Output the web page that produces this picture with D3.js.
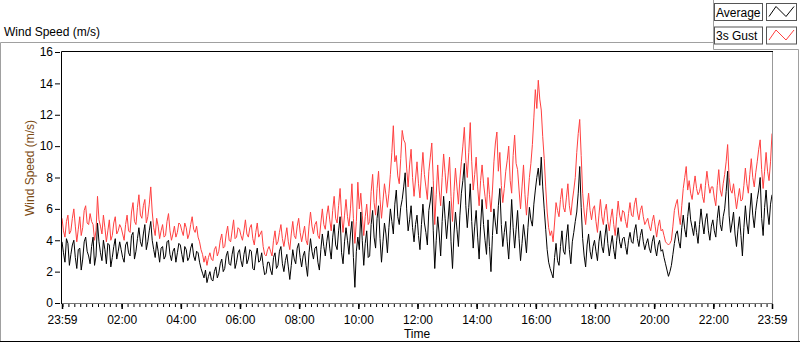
<!DOCTYPE html>
<html>
<head>
<meta charset="utf-8">
<script src="https://cdn.jsdelivr.net/npm/d3@7"></script>
<style>
  body { margin: 0; background: #fff; }
  text { font-family: "Liberation Sans", Arial, sans-serif; font-size: 12px; }
</style>
</head>
<body>
<div id="chart"></div>
<script>
// wind speed log, one value every 3 minutes from 23:59 to 23:59 (one row = one hour)
var avgSpeed = [
  3.9, 3.2, 2.6, 4.1, 3.8, 2.4, 3.1, 3.7, 4.0, 2.9, 2.2, 3.4, 3.5, 2.1, 2.8, 3.9, 4.2, 3.3, 3.0, 2.5,
  3.6, 4.2, 2.4, 3.0, 5.1, 3.9, 3.2, 2.7, 4.0, 3.4, 2.5, 3.8, 3.7, 2.3, 2.9, 3.6, 4.1, 2.8, 3.3, 3.9,
  3.4, 2.9, 2.6, 3.7, 3.9, 3.2, 3.0, 4.3, 4.5, 2.8, 3.3, 4.1, 4.8, 3.9, 3.6, 4.4, 5.0, 3.4, 3.9, 4.6,
  5.2, 4.0, 3.4, 2.9, 3.9, 3.3, 2.6, 3.5, 3.6, 2.8, 3.0, 3.9, 4.0, 3.1, 2.7, 3.3, 3.5, 2.6, 3.2, 3.8,
  3.7, 3.1, 2.6, 3.6, 3.4, 2.7, 2.9, 3.5, 3.8, 3.0, 2.7, 3.3, 3.2, 2.6, 2.2, 1.9, 1.6, 2.1, 1.3, 1.7,
  2.0, 1.5, 1.4, 2.0, 2.3, 1.6, 1.9, 2.5, 2.8, 2.0, 2.2, 3.0, 3.3, 2.5, 2.4, 3.1, 3.6, 2.2, 2.6, 3.2,
  3.4, 2.7, 2.3, 3.1, 3.6, 2.5, 2.8, 3.4, 3.3, 2.2, 2.1, 3.0, 3.5, 2.6, 2.7, 3.2, 2.4, 1.8, 1.9, 2.6,
  2.6, 2.1, 1.8, 2.9, 3.2, 2.2, 2.4, 3.3, 3.6, 2.5, 2.0, 2.7, 3.1, 2.3, 1.5, 2.4, 3.4, 2.8, 2.5, 3.5,
  3.8, 2.9, 2.3, 3.0, 3.3, 2.4, 1.7, 3.2, 4.1, 3.3, 2.8, 3.5, 3.6, 2.6, 2.1, 3.4, 4.4, 3.6, 3.0, 3.9,
  4.6, 3.5, 2.8, 4.2, 5.0, 3.7, 3.4, 4.6, 5.5, 3.2, 2.5, 3.9, 4.8, 4.0, 3.1, 4.4, 5.2, 2.9, 1.0, 3.3,
  4.2, 3.4, 5.8, 4.0, 2.4, 3.8, 4.6, 2.9, 3.0, 5.0, 5.9, 4.2, 3.5, 5.4, 6.2, 4.1, 2.6, 3.9, 5.1, 4.4,
  3.2, 4.8, 6.0, 5.2, 4.4, 6.3, 7.2, 5.5, 5.0, 6.1, 6.6, 7.4, 8.3, 6.0, 4.6, 5.3, 6.2, 4.8, 3.9, 5.0,
  5.6, 4.3, 3.4, 5.0, 6.3, 5.1, 4.5, 3.7, 5.9, 6.5, 7.4, 4.6, 2.2, 4.0, 5.5, 4.4, 3.0, 5.2, 6.8, 5.4,
  4.1, 5.3, 6.5, 3.9, 2.2, 4.4, 5.8, 4.7, 3.6, 5.6, 7.0, 7.8, 8.9, 6.2, 4.8, 6.1, 7.6, 5.2, 3.5, 4.9,
  5.9, 4.2, 2.8, 4.9, 6.6, 5.0, 4.0, 3.1, 5.3, 3.6, 2.0, 4.3, 6.0, 5.1, 4.4, 6.2, 7.3, 5.0, 3.6, 4.5,
  5.2, 3.9, 2.8, 4.6, 6.6, 4.8, 3.5, 4.7, 5.9, 4.1, 2.7, 3.8, 5.0, 4.2, 3.2, 4.8, 6.1, 5.3, 4.9, 6.3,
  7.2, 8.0, 8.6, 7.5, 9.3, 7.4, 6.0, 4.7, 3.4, 2.6, 2.2, 1.9, 1.6, 2.9, 3.8, 2.7, 2.4, 3.6, 4.6, 3.3,
  3.1, 4.2, 5.0, 3.4, 2.5, 3.9, 4.5, 5.2, 5.8, 7.0, 8.7, 6.1, 4.1, 3.0, 2.3, 3.7, 4.4, 3.3, 2.8, 3.6,
  4.0, 3.3, 2.7, 3.9, 4.6, 3.6, 3.2, 4.2, 5.0, 3.8, 3.0, 3.7, 4.3, 3.4, 2.8, 4.0, 4.8, 3.9, 3.5, 4.1,
  4.2, 3.6, 3.1, 4.0, 4.5, 3.9, 3.8, 4.6, 5.0, 4.1, 3.6, 4.3, 4.7, 3.9, 3.4, 3.8, 4.1, 3.5, 3.2, 3.9,
  4.3, 3.5, 3.0, 3.7, 4.0, 3.3, 3.4, 2.9, 2.5, 2.1, 1.7, 2.0, 2.4, 3.1, 3.8, 4.4, 4.6, 3.9, 3.5, 4.8,
  5.6, 4.7, 4.2, 5.5, 6.4, 5.3, 4.8, 4.3, 5.2, 4.5, 3.8, 5.0, 6.0, 5.1, 4.4, 5.3, 5.7, 4.6, 4.0, 4.9,
  5.3, 4.6, 4.2, 5.4, 6.2, 5.0, 4.6, 5.5, 6.0, 7.1, 8.4, 5.6, 4.5, 5.1, 5.8, 4.4, 3.6, 4.7, 5.5, 4.3,
  3.0, 4.8, 6.2, 5.1, 4.4, 5.8, 7.0, 5.6, 4.8, 5.9, 6.6, 7.2, 8.0, 5.4, 4.3, 6.1, 7.2, 5.8, 5.0, 6.3,
  6.9
];

var gustSpeed = [
  5.4, 4.6, 4.2, 5.2, 5.6, 4.4, 4.6, 5.4, 6.0, 4.9, 3.9, 4.7, 5.5, 4.3, 4.8, 5.9, 6.2, 5.1, 5.0, 5.7,
  5.2, 5.0, 4.0, 4.6, 6.8, 5.3, 4.9, 4.4, 5.6, 4.8, 3.9, 4.6, 5.3, 4.0, 4.3, 5.1, 5.5, 4.4, 4.6, 5.0,
  4.8, 4.4, 4.0, 5.0, 5.6, 4.6, 4.5, 5.8, 6.4, 5.2, 5.0, 6.1, 6.9, 5.6, 5.4, 6.2, 6.6, 5.1, 5.5, 6.3,
  7.4, 5.8, 4.8, 4.3, 5.4, 4.9, 4.1, 4.6, 5.0, 4.2, 4.3, 5.2, 5.7, 4.6, 4.0, 4.4, 4.9, 4.2, 4.5, 5.1,
  5.0, 4.6, 4.3, 5.1, 4.8, 4.1, 4.4, 5.0, 5.5, 4.7, 4.5, 4.9, 4.2, 3.9, 3.4, 3.1, 2.6, 3.0, 2.4, 2.9,
  3.2, 2.8, 2.7, 3.4, 3.6, 3.0, 3.3, 4.0, 4.4, 3.5, 3.6, 4.4, 4.9, 4.0, 3.9, 4.6, 5.3, 4.1, 4.2, 4.8,
  4.7, 4.3, 4.0, 4.6, 5.3, 4.4, 4.2, 4.8, 5.0, 4.1, 3.7, 4.5, 5.1, 4.2, 4.4, 4.6, 3.6, 3.1, 3.0, 3.4,
  3.6, 3.3, 3.0, 4.0, 4.6, 3.7, 3.9, 4.5, 5.0, 4.1, 3.6, 4.2, 4.8, 3.9, 3.4, 4.4, 5.2, 4.3, 4.1, 4.9,
  5.4, 4.5, 3.9, 4.4, 4.9, 4.0, 3.7, 4.9, 5.8, 4.9, 4.4, 5.0, 5.2, 4.3, 4.1, 5.1, 6.0, 5.0, 4.7, 5.6,
  6.2, 5.3, 4.6, 5.9, 6.8, 5.4, 5.1, 6.2, 7.3, 5.6, 4.5, 5.6, 6.6, 5.5, 4.9, 6.0, 7.6, 5.4, 3.8, 5.2,
  7.7, 6.0, 7.0, 5.6, 4.3, 5.5, 6.3, 5.0, 5.2, 7.1, 8.2, 6.4, 5.6, 7.3, 8.4, 6.6, 5.4, 6.5, 7.6, 6.9,
  6.1, 7.0, 8.2, 9.6, 11.3, 9.0, 9.4, 8.1, 7.6, 9.2, 11.0, 10.4, 10.2, 8.6, 7.4, 8.8, 9.8, 8.0, 6.8, 7.9,
  9.0, 7.6, 6.7, 8.3, 9.6, 8.2, 7.4, 6.6, 8.4, 9.3, 10.2, 7.8, 5.0, 6.9, 8.8, 7.2, 6.2, 8.0, 9.5, 8.3,
  7.0, 8.1, 9.3, 6.8, 5.2, 7.1, 8.6, 7.4, 6.3, 7.9, 9.0, 10.0, 11.2, 9.1, 8.0, 9.6, 11.5, 9.0, 7.2, 8.2,
  9.3, 7.4, 6.2, 7.8, 8.8, 7.6, 6.8, 6.0, 8.0, 6.9, 5.8, 7.2, 9.0, 10.2, 10.9, 8.4, 9.6, 7.5, 6.4, 7.3,
  8.4, 9.1, 10.0, 7.8, 7.0, 9.4, 10.7, 8.9, 8.5, 7.2, 6.0, 7.4, 8.8, 6.9, 5.6, 6.8, 8.0, 8.9, 10.1, 11.8,
  13.6, 12.4, 14.2, 13.0, 12.3, 10.6, 9.2, 7.4, 5.8, 4.8, 4.3, 4.6, 3.9, 5.1, 6.4, 5.9, 5.5, 6.6, 7.3, 6.1,
  5.8, 6.7, 7.6, 6.2, 5.6, 6.5, 7.2, 8.0, 9.6, 10.8, 11.7, 9.4, 7.0, 5.8, 5.0, 6.1, 7.0, 5.9, 5.3, 6.0,
  6.2, 5.2, 4.5, 5.6, 6.6, 5.5, 5.0, 5.9, 6.3, 5.2, 4.6, 5.4, 6.0, 5.0, 4.3, 5.5, 6.5, 5.6, 5.2, 5.9,
  5.8, 5.2, 4.8, 5.7, 6.4, 5.6, 5.5, 6.3, 6.7, 5.8, 5.3, 5.9, 6.2, 5.5, 5.0, 5.2, 5.4, 4.9, 4.6, 5.2,
  5.6, 4.9, 4.2, 4.9, 5.3, 4.6, 4.7, 4.3, 3.9, 3.8, 3.7, 3.8, 4.0, 4.9, 5.9, 6.3, 6.6, 5.6, 5.0, 6.2,
  7.3, 8.0, 8.7, 7.2, 7.8, 7.0, 6.6, 7.4, 8.1, 7.3, 6.9, 7.1, 7.6, 6.8, 6.4, 7.5, 8.4, 7.6, 7.0, 7.4,
  7.4, 6.7, 6.2, 7.5, 8.5, 7.2, 6.8, 7.6, 8.2, 9.0, 10.1, 8.0, 7.2, 7.0, 7.6, 6.8, 6.0, 6.7, 7.3, 6.5,
  6.6, 7.5, 8.6, 7.6, 7.0, 8.2, 9.2, 8.0, 7.4, 8.3, 9.0, 9.8, 10.4, 8.5, 7.3, 8.4, 9.6, 8.4, 7.8, 9.0,
  10.8
];

var seriesNames = ["Average", "3s Gust"];
var seriesColors = ["#000000", "#ff4040"];
var yTicks = [0, 2, 4, 6, 8, 10, 12, 14, 16];
var labelHours = [2, 4, 6, 8, 10, 12, 14, 16, 18, 20, 22];
var stepMinutes = 3;

var svgwdth = 800;
var svghght = 342;

// plot area edges
var plot = {left: 62, right: 772, top: 52, bottom: 303};

var svg = d3.select("#chart")
  .append("svg")
  .attr("width", svgwdth)
  .attr("height", svghght);

var startTime = new Date(2020, 0, 1, 23, 59);
var endTime = new Date(2020, 0, 2, 23, 59);

var xScale = d3.scaleTime()
  .domain([startTime, endTime])
  .range([plot.left, plot.right]);

var yScale = d3.scaleLinear()
  .domain([0, 16])
  .range([plot.bottom, plot.top]);

//----- outer frame -----//
var frameGray = "#a0a0a0";
svg.append("path")
  .attr("d", "M0.5,341 L0.5,42.5 L713,42.5")
  .attr("fill", "none").attr("stroke", frameGray);
svg.append("path")
  .attr("d", "M713.5,0 L713.5,49.5 L798.5,49.5 L798.5,341")
  .attr("fill", "none").attr("stroke", frameGray);
svg.append("line")
  .attr("x1", 0).attr("x2", 800).attr("y1", 341.5).attr("y2", 341.5)
  .attr("stroke", "#000");

svg.append("text")
  .attr("x", 4).attr("y", 36)
  .attr("fill", "#000")
  .text("Wind Speed (m/s)");

//----- legend -----//
var legend = svg.append("g");
seriesNames.forEach(function(name, i) {
  var top = 3.5 + i * 23.5;
  legend.append("rect")
    .attr("x", 714.5).attr("y", top)
    .attr("width", 48).attr("height", 17)
    .attr("fill", "#fff").attr("stroke", "#555");
  legend.append("text")
    .attr("x", 716).attr("y", top + 13)
    .attr("fill", "#000")
    .text(name);
  legend.append("rect")
    .attr("x", 766.5).attr("y", top)
    .attr("width", 30).attr("height", 17)
    .attr("fill", "#fff").attr("stroke", "#555");
  legend.append("path")
    .attr("d", "M769," + (top + 13) + " L776," + (top + 3) + " L786," + (top + 13) + " L794," + (top + 3))
    .attr("fill", "none")
    .attr("stroke", seriesColors[i]);
});

//----- plot frame -----//
svg.append("line")
  .attr("x1", plot.right + 0.5).attr("x2", plot.right + 0.5)
  .attr("y1", plot.top).attr("y2", plot.bottom)
  .attr("stroke", "#999");
svg.append("line")
  .attr("x1", plot.left).attr("x2", plot.right + 1)
  .attr("y1", plot.bottom + 0.5).attr("y2", plot.bottom + 0.5)
  .attr("stroke", "#777");
svg.append("path")
  .attr("d", "M" + (plot.left - 0.5) + "," + (plot.bottom + 1) + " L" + (plot.left - 0.5) + "," + (plot.top - 0.5) + " L" + (plot.right + 1) + "," + (plot.top - 0.5))
  .attr("fill", "none").attr("stroke", "#000");

//----- y axis -----//
var leftAxis = d3.axisLeft(yScale)
  .tickValues(yTicks)
  .tickSize(5)
  .tickPadding(2);

var yAxis = svg.append("g")
  .attr("transform", "translate(" + (plot.left - 2) + ",0)")
  .call(leftAxis);
yAxis.select(".domain").remove();
yAxis.selectAll("text").style("font-size", "12px").attr("fill", "#000");

svg.append("text")
  .attr("transform", "translate(34," + 168 + ") rotate(-90)")
  .attr("text-anchor", "middle")
  .attr("fill", "#7a4a12")
  .text("Wind Speed (m/s)");

//----- x axis -----//
var majorTimes = [startTime].concat(labelHours.map(function(h) {
  return new Date(2020, 0, 2, h, 0);
})).concat([endTime]);

var minorTimes = d3.timeMinute.every(12).range(startTime, endTime);

var xAxisG = svg.append("g")
  .attr("transform", "translate(0," + (plot.bottom + 1) + ")");

xAxisG.call(d3.axisBottom(xScale)
  .tickValues(minorTimes)
  .tickSize(3)
  .tickFormat(""));

xAxisG.append("g").call(d3.axisBottom(xScale)
  .tickValues(majorTimes)
  .tickSize(5)
  .tickPadding(6)
  .tickFormat(d3.timeFormat("%H:%M")));

xAxisG.selectAll(".domain").remove();
xAxisG.selectAll("text").style("font-size", "12px").attr("fill", "#000");
xAxisG.selectAll("line").attr("stroke", "#000");
xAxisG.selectAll("g.tick").filter(function(d) { return majorTimes.some(function(m) { return +m === +d; }); })
  .select("line").attr("stroke-width", 1.5);

svg.append("text")
  .attr("x", (plot.left + plot.right) / 2)
  .attr("y", 338)
  .attr("text-anchor", "middle")
  .attr("fill", "#000")
  .text("Time");

//----- series -----//
svg.append("clipPath")
  .attr("id", "plotClip")
  .append("rect")
  .attr("x", plot.left).attr("y", plot.top)
  .attr("width", plot.right - plot.left).attr("height", plot.bottom - plot.top);

function timeAt(i) {
  return d3.timeMinute.offset(startTime, i * stepMinutes);
}

var speedLine = d3.line()
  .x(function(d, i) { return xScale(timeAt(i)); })
  .y(function(d) { return yScale(d); });

var plotGroup = svg.append("g").attr("clip-path", "url(#plotClip)");

// gust underneath, average drawn on top
plotGroup.append("path")
  .datum(gustSpeed)
  .attr("d", speedLine)
  .attr("fill", "none")
  .attr("stroke", seriesColors[1])
  .attr("stroke-width", 1);

plotGroup.append("path")
  .datum(avgSpeed)
  .attr("d", speedLine)
  .attr("fill", "none")
  .attr("stroke", seriesColors[0])
  .attr("stroke-width", 1);
</script>
</body>
</html>
